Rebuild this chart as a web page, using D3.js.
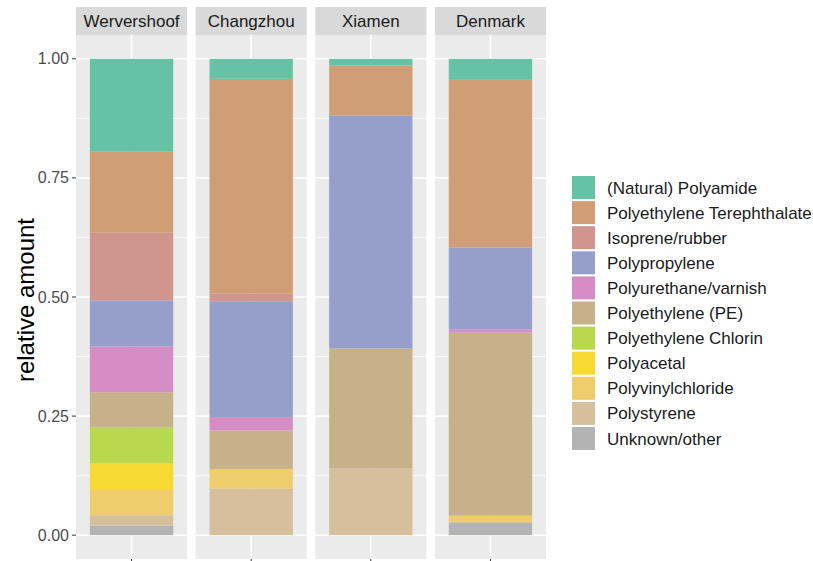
<!DOCTYPE html>
<html>
<head>
<meta charset="utf-8">
<script src="https://cdn.jsdelivr.net/npm/d3@7"></script>
<style>
  body { margin: 0; background: #fff; }
  svg { font-family: "Liberation Sans", Arial, sans-serif; }
</style>
</head>
<body>
<svg id="chart"></svg>
<script>
// base settings
const width = 813;
const height = 561;

// data (top of stack first, as in the legend)
const sites = ["Wervershoof", "Changzhou", "Xiamen", "Denmark"];
const polymers = [
  "(Natural) Polyamide", "Polyethylene Terephthalate", "Isoprene/rubber",
  "Polypropylene", "Polyurethane/varnish", "Polyethylene (PE)",
  "Polyethylene Chlorin", "Polyacetal", "Polyvinylchloride",
  "Polystyrene", "Unknown/other"
];
const wervershoof = [0.195, 0.170, 0.142, 0.097, 0.096, 0.074, 0.075, 0.056, 0.053, 0.022, 0.020];
const changzhou   = [0.042, 0.451, 0.016, 0.243, 0.028, 0.081, 0, 0, 0.041, 0.098, 0];
const xiamen      = [0.014, 0.105, 0, 0.489, 0, 0.252, 0, 0, 0, 0.140, 0];
const denmark     = [0.044, 0.352, 0, 0.172, 0.007, 0.384, 0, 0, 0.014, 0, 0.027];
const yTicks = [0, 0.25, 0.5, 0.75, 1];
const yTickLabels = ["0.00", "0.25", "0.50", "0.75", "1.00"];

const colours = ["#66C2A5", "#CF9D76", "#D0958C", "#969ECA", "#D58EC5", "#C6B18B",
                 "#B8D84D", "#F6D933", "#EFCC6C", "#D6BF9D", "#B3B3B3"];

const siteValues = [wervershoof, changzhou, xiamen, denmark];
const rows = sites.map((s, i) => {
  const row = { site: s };
  polymers.forEach((p, j) => row[p] = siteValues[i][j]);
  return row;
});

const svg = d3.select("#chart").attr("width", width).attr("height", height);

// panel layout
const plotLeft = 76, plotRight = 546;
const stripTop = 7, stripH = 28;
const panelTop = stripTop + stripH, panelBottom = 559;

const panelX = d3.scaleBand().domain(sites).range([plotLeft, plotRight]).paddingInner(0.071);
const pw = panelX.bandwidth();
const y = d3.scaleLinear().domain([-0.05, 1.05]).range([panelBottom, panelTop]);
const xIn = d3.scaleLinear().domain([0.4, 1.6]).range([0, pw]);
const colour = d3.scaleOrdinal().domain(polymers).range(colours);

// ggplot stacks the first level on top, so stack from the last key upward
const stack = d3.stack().keys(polymers.slice().reverse());
const series = stack(rows);

const minorTicks = [0.125, 0.375, 0.625, 0.875];

sites.forEach((site, i) => {
  const g = svg.append("g").attr("transform", `translate(${panelX(site)},0)`);

  // strip
  g.append("rect").attr("x", 0).attr("y", stripTop).attr("width", pw).attr("height", stripH)
    .attr("fill", "#D9D9D9");
  g.append("text").attr("x", pw / 2).attr("y", stripTop + stripH / 2 + 6)
    .attr("text-anchor", "middle").attr("font-size", 17).attr("fill", "#1A1A1A").text(site);

  // panel background and grid
  g.append("rect").attr("x", 0).attr("y", panelTop).attr("width", pw)
    .attr("height", panelBottom - panelTop).attr("fill", "#EBEBEB");
  g.selectAll(".minor").data(minorTicks).enter().append("line")
    .attr("x1", 0).attr("x2", pw).attr("y1", d => y(d)).attr("y2", d => y(d))
    .attr("stroke", "#fff").attr("stroke-width", 0.8);
  g.selectAll(".major").data(yTicks).enter().append("line")
    .attr("x1", 0).attr("x2", pw).attr("y1", d => y(d)).attr("y2", d => y(d))
    .attr("stroke", "#fff").attr("stroke-width", 1.6);
  g.append("line").attr("x1", xIn(1)).attr("x2", xIn(1)).attr("y1", panelTop).attr("y2", panelBottom)
    .attr("stroke", "#fff").attr("stroke-width", 1.6);

  // stacked bar
  g.selectAll(".seg").data(series).enter().append("rect")
    .attr("x", xIn(0.55)).attr("width", xIn(1.45) - xIn(0.55))
    .attr("y", d => y(d[i][1])).attr("height", d => y(d[i][0]) - y(d[i][1]))
    .attr("fill", d => colour(d.key));

  // x tick
  g.append("line").attr("x1", xIn(1)).attr("x2", xIn(1)).attr("y1", panelBottom).attr("y2", panelBottom + 4)
    .attr("stroke", "#333").attr("stroke-width", 1);
});

// y axis
const yAxis = svg.append("g");
yAxis.selectAll("line").data(yTicks).enter().append("line")
  .attr("x1", plotLeft - 4).attr("x2", plotLeft).attr("y1", d => y(d)).attr("y2", d => y(d))
  .attr("stroke", "#333").attr("stroke-width", 1);
yAxis.selectAll("text").data(yTicks).enter().append("text")
  .attr("x", plotLeft - 7).attr("y", d => y(d) + 5.5)
  .attr("text-anchor", "end").attr("font-size", 16).attr("fill", "#4D4D4D")
  .text((d, i) => yTickLabels[i]);
svg.append("text")
  .attr("transform", `translate(25,${(panelTop + panelBottom) / 2 + 3}) rotate(-90)`)
  .attr("text-anchor", "middle").attr("dominant-baseline", "central")
  .attr("font-size", 24).attr("fill", "#000").text("relative amount");

// legend
const legend = svg.append("g").attr("transform", "translate(572,176)");
const lg = legend.selectAll("g").data(polymers).enter().append("g")
  .attr("transform", (d, i) => `translate(0,${i * 25.1})`);
lg.append("rect").attr("width", 23).attr("height", 23).attr("fill", d => colour(d));
lg.append("text").attr("x", 35).attr("y", 12).attr("dominant-baseline", "central")
  .attr("font-size", 17).attr("fill", "#1A1A1A").text(d => d);
</script>
</body>
</html>
